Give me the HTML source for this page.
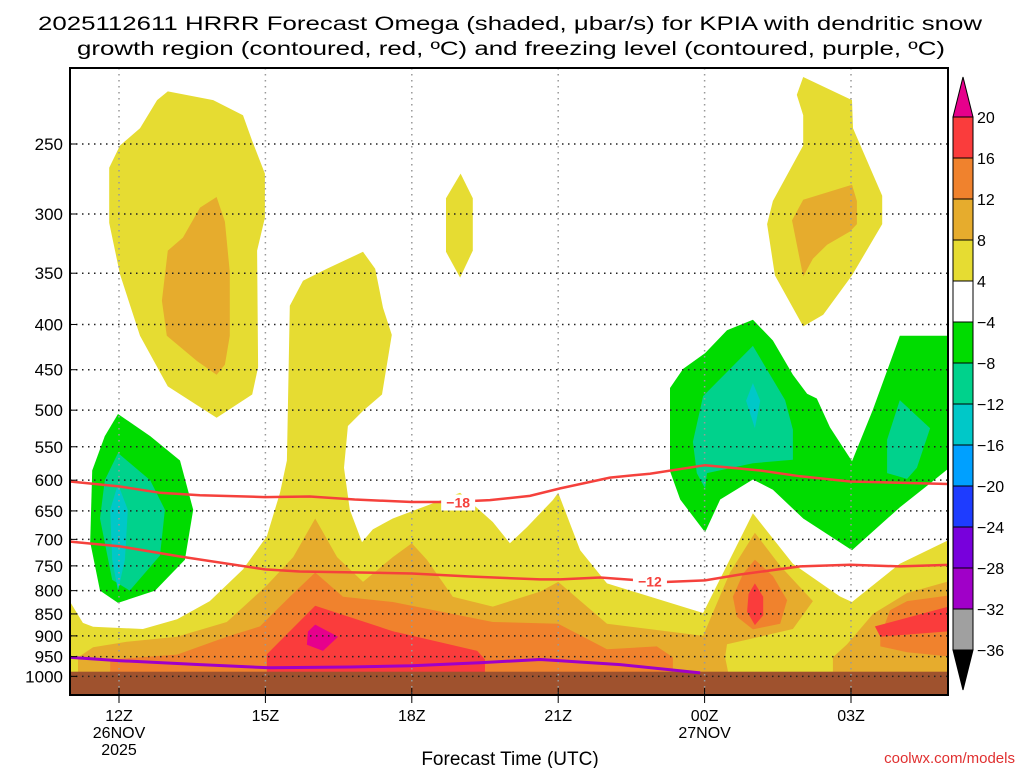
<!DOCTYPE html>
<html><head><meta charset="utf-8"><style>
html,body{margin:0;padding:0;background:#fff;width:1024px;height:768px;overflow:hidden}
svg text{font-family:"Liberation Sans",sans-serif}
</style></head><body>
<svg id="chart" width="1024" height="768" viewBox="0 0 1024 768" xmlns="http://www.w3.org/2000/svg">
<text x="38" y="30" font-size="19" textLength="944" lengthAdjust="spacingAndGlyphs">2025112611 HRRR Forecast Omega (shaded, μbar/s) for KPIA with dendritic snow</text>
<text x="77" y="55" font-size="19" textLength="868" lengthAdjust="spacingAndGlyphs">growth region (contoured, red, ºC) and freezing level (contoured, purple, ºC)</text>
<defs><clipPath id="plotclip"><rect x="70" y="68" width="878" height="627"/></clipPath></defs>
<g id="fills" clip-path="url(#plotclip)"></g>
<g id="overlay"></g>
<rect x="70" y="68" width="878" height="627" fill="none" stroke="#000" stroke-width="2"/>
<g id="cbar"></g>
<text x="510" y="765" font-size="19" text-anchor="middle">Forecast Time (UTC)</text>
<text x="1015" y="763" font-size="15" text-anchor="end" fill="#e03030">coolwx.com/models</text>
</svg>
<script>
// axes: hours since 00Z 26NOV (11 -> 29), pressure hPa log scale
const pTicks=[250,300,350,400,450,500,550,600,650,700,750,800,850,900,950,1000];
const hTicks=[12,15,18,21,24,27];
const hLabels=[["12Z","26NOV","2025"],["15Z"],["18Z"],["21Z"],["00Z","27NOV"],["03Z"]];
const cbLevels=[20,16,12,8,4,-4,-8,-12,-16,-20,-24,-28,-32,-36];
const cbColors=["#fa3c3c","#f0822d","#e6ac2d","#e6dc32","#ffffff","#00dc00","#00d28c","#00c8c8","#00a0ff","#1e3cff","#7800dc","#a000c8","#a0a0a0"];
// shaded regions: [hour, pressure]
const yellowMain=[[11,824],[11.26,870],[11.47,879],[12.49,884],[13.19,862],[13.86,822],[14.54,757],[15.03,694],[15.3,620],[15.44,570],[15.5,381],[15.77,357],[16.26,346],[17,331],[17.25,346],[17.41,383],[17.59,411],[17.39,480],[17,501],[16.69,521],[16.61,581],[16.73,648],[16.98,705],[17.2,682],[17.61,663],[18.31,641],[18.99,620],[19.66,669],[20.01,707],[20.36,678],[20.89,632],[21,620],[21.45,720],[22,785],[23.97,848],[24.99,654],[25.81,746],[26.77,812],[27.02,824],[28,746],[29.03,700],[29.03,1050],[11,1050]];
const yellowUL=[[13,218],[13.93,223],[14.54,232],[14.73,248],[14.99,270],[14.99,303],[14.83,330],[14.85,447],[14.73,480],[14,510],[13,470],[12.43,412],[12.02,351],[11.8,307],[11.8,266],[12.02,251],[12.43,240],[12.78,223]];
const goldUL=[[14,287],[14.17,306],[14.27,349],[14.27,412],[14.17,444],[14,456],[13.6,440],[12.98,412],[12.88,376],[13,330],[13.31,319],[13.66,295]];
const yellowSmall=[[19,270],[19.25,288],[19.25,330],[18.99,354],[18.7,331],[18.7,288]];
const yellowUR=[[26.02,210],[27.02,223],[27.04,240],[27.64,286],[27.64,308],[27.02,352],[26.43,390],[26.02,402],[25.44,352],[25.28,308],[25.4,290],[26.02,251],[26.02,232],[25.89,220]];
const goldUR=[[27.02,278],[27.12,290],[27.12,308],[26.98,314],[26.51,325],[26.22,337],[26.02,353],[25.79,305],[26.02,289]];
const goldLow=[[11.16,952],[11.47,927],[12.16,914],[13.19,902],[14.21,868],[15.03,789],[15.57,733],[16.02,663],[16.47,733],[17,782],[17.61,733],[18,707],[18.31,738],[18.84,813],[19.66,834],[20.63,802],[21,782],[22,872],[23.97,900],[24.52,763],[25.03,688],[25.55,750],[26.22,822],[25.81,884],[24.46,920],[24.42,952],[24.58,1050],[11.16,1050]];
const goldRight=[[26.63,952],[26.92,920],[27.45,850],[28.15,805],[29.03,780],[29.03,1050],[26.63,1050]];
const orangeLow=[[11.82,957],[13.19,945],[14.21,902],[14.89,878],[15.5,813],[16.02,763],[16.59,813],[17.61,824],[19.66,868],[21,872],[22,932],[23.02,925],[23.35,952],[23.35,1050],[11.82,1050]];
const orangePeak=[[25.03,738],[25.4,770],[25.69,820],[25.55,872],[24.99,885],[24.66,856],[24.58,813],[24.79,765]];
const orangeRight=[[27.6,902],[27.8,842],[28.15,822],[29.03,810],[29.03,950],[28.15,939],[27.6,925]];
const redLow=[[15.03,944],[16.02,832],[17.61,889],[19.34,936],[19.5,957],[19.5,1050],[15.03,1050]];
const redPeak=[[25.03,785],[25.2,813],[25.2,853],[25.03,875],[24.87,845],[24.9,807]];
const redRight=[[27.49,878],[29.03,833],[29.03,889],[27.6,902]];
const magentaLow=[[16.02,874],[16.49,902],[16.18,936],[15.85,921],[15.87,890]];
const greenL=[[11.98,505],[12.64,535],[13.25,570],[13.52,648],[13.35,738],[12.74,800],[11.98,826],[11.61,800],[11.41,705],[11.45,585],[11.71,535]];
const tealL=[[11.98,559],[12.64,600],[12.94,648],[12.84,730],[12.22,800],[11.86,778],[11.61,663],[11.71,600]];
const cyanL=[[11.98,606],[12.18,648],[12.12,738],[11.98,800],[11.86,738],[11.82,648]];
const greenR=[[23.29,472],[23.56,449],[24.01,431],[24.46,406],[24.99,395],[25.4,417],[25.81,456],[26.1,479],[26.3,485],[26.57,523],[27.02,571],[27.45,499],[28,412],[29.03,412],[29.03,580],[28.62,605],[28,644],[27.02,720],[26.02,663],[25.4,615],[24.99,599],[24.32,631],[24.01,687],[23.5,631],[23.29,586]];
const tealR1=[[23.76,543],[23.97,482],[24.99,423],[25.65,487],[25.81,526],[25.81,569],[24.99,574],[24.05,589],[24.01,613],[23.84,589]];
const cyanR=[[24.99,466],[25.14,488],[25.03,524],[24.85,488]];
const tealR2=[[28,487],[28.62,524],[28.35,581],[28.15,598],[27.74,589],[27.74,540]];
// contour lines
const lineHours18=[11,12.02,12.84,13.66,14.99,15.91,16.83,18,18.78,19.6,20.42,21.04,22.06,22.88,24.01,25.14,25.96,26.98,28,29];
const linePres18=[602,610,620,624,627,626,631,635,635,632,625,613,596,590,577,585,594,602,604,606];
const lineHours12=[11,12.02,13.25,14.99,15.7,16.93,18,19.19,20.63,21.04,21.86,22.68,23.0,24.01,24.73,25.96,26.98,28,29];
const linePres12=[704,713,732,757,761,763,765,771,777,777,773,779,783,779,767,751,748,751,748];
const frzHours=[11,12.02,13.66,15.09,16.73,18,19.39,20.63,21.04,22.27,23.91];
const frzPres=[952,960,970,978,976,973,965,957,960,970,991];
const terrainPres=988;

const X=h=>119+(h-12)*48.8;
const Y=p=>144+384*Math.log(p/250);
const NS="http://www.w3.org/2000/svg";
function mk(tag,parent){const e=document.createElementNS(NS,tag);parent.appendChild(e);return e;}
const fills=document.getElementById('fills');
const overlay=document.getElementById('overlay');
function poly(pts,color,name){
  const e=mk('polygon',fills);
  e.setAttribute('points',pts.map(q=>X(q[0]).toFixed(1)+','+Y(q[1]).toFixed(1)).join(' '));
  e.setAttribute('fill',color);
  
  
}
poly(yellowMain,'#e6dc32','shade-4-8-lower');
poly(yellowUL,'#e6dc32','shade-4-8-upper-left');
poly(goldUL,'#e6ac2d','shade-8-12-upper-left');
poly(yellowSmall,'#e6dc32','shade-4-8-small');
poly(yellowUR,'#e6dc32','shade-4-8-upper-right');
poly(goldUR,'#e6ac2d','shade-8-12-upper-right');
poly(goldLow,'#e6ac2d','shade-8-12-lower');
poly(goldRight,'#e6ac2d','shade-8-12-right');
poly(orangeLow,'#f0822d','shade-12-16-lower');
poly(orangePeak,'#f0822d','shade-12-16-peak');
poly(orangeRight,'#f0822d','shade-12-16-right');
poly(redLow,'#fa3c3c','shade-16-20-lower');
poly(redPeak,'#fa3c3c','shade-16-20-peak');
poly(redRight,'#fa3c3c','shade-16-20-right');
poly(magentaLow,'#e6008c','shade-above-20');
poly(greenL,'#00dc00','shade-neg4-neg8-left');
poly(tealL,'#00d28c','shade-neg8-neg12-left');
poly(cyanL,'#00c8c8','shade-neg12-neg16-left');
poly(greenR,'#00dc00','shade-neg4-neg8-right');
poly(tealR1,'#00d28c','shade-neg8-neg12-right');
poly(cyanR,'#00c8c8','shade-neg12-neg16-right');
poly(tealR2,'#00d28c','shade-neg8-neg12-far-right');
// terrain
const terr=mk('rect',fills);
terr.setAttribute('x',70);terr.setAttribute('y',Y(terrainPres));terr.setAttribute('width',878);terr.setAttribute('height',695-Y(terrainPres));terr.setAttribute('fill','#9f522e');


// grid
hTicks.forEach(h=>{
  const l=mk('line',fills);
  l.setAttribute('x1',X(h));l.setAttribute('x2',X(h));l.setAttribute('y1',68);l.setAttribute('y2',695);
  l.setAttribute('stroke','#999');l.setAttribute('stroke-dasharray','1.5 4.5');l.setAttribute('stroke-width','1.5');
  
  
});
pTicks.forEach(p=>{
  const l=mk('line',fills);
  l.setAttribute('x1',70);l.setAttribute('x2',948);l.setAttribute('y1',Y(p));l.setAttribute('y2',Y(p));
  l.setAttribute('stroke','#222');l.setAttribute('stroke-dasharray','1.5 4.5');l.setAttribute('stroke-width','1.5');
  
  
});
function pline(hs,ps,color,name,w){
  const e=mk('polyline',fills);
  e.setAttribute('points',hs.map((h,i)=>X(h).toFixed(1)+','+Y(ps[i]).toFixed(1)).join(' '));
  e.setAttribute('fill','none');e.setAttribute('stroke',color);e.setAttribute('stroke-width',w);
  
  
}
pline(lineHours18,linePres18,'#f5413c','contour-minus-18',2.5);
pline(lineHours12,linePres12,'#f5413c','contour-minus-12',2.5);
pline(frzHours,frzPres,'#a000c8','freezing-level-line',3);
function clabel(txt,h,p,name){
  const r=mk('rect',overlay);
  r.setAttribute('x',X(h)-17);r.setAttribute('y',Y(p)-8);r.setAttribute('width',34);r.setAttribute('height',16);r.setAttribute('fill','#fff');
  
  
  const t=mk('text',overlay);
  t.setAttribute('x',X(h));t.setAttribute('y',Y(p)+5);t.setAttribute('text-anchor','middle');
  t.setAttribute('font-size','14');t.setAttribute('font-weight','bold');t.setAttribute('fill','#f5413c');
  t.textContent=txt;
  
  
}
clabel('−18',18.95,636,'contour-label-minus-18');
clabel('−12',22.88,781,'contour-label-minus-12');
// axis ticks & labels
pTicks.forEach(p=>{
  const t=mk('text',overlay);
  t.setAttribute('x',63);t.setAttribute('y',Y(p)+6);t.setAttribute('text-anchor','end');t.setAttribute('font-size','17');
  t.textContent=p;
  
  
  const l=mk('line',overlay);
  l.setAttribute('x1',70);l.setAttribute('x2',77);l.setAttribute('y1',Y(p));l.setAttribute('y2',Y(p));l.setAttribute('stroke','#000');
  
  
});
hTicks.forEach((h,i)=>{
  const l=mk('line',overlay);
  l.setAttribute('x1',X(h));l.setAttribute('x2',X(h));l.setAttribute('y1',688);l.setAttribute('y2',703);l.setAttribute('stroke','#000');
  
  
  hLabels[i].forEach((s,j)=>{
    const t=mk('text',overlay);
    t.setAttribute('x',X(h));t.setAttribute('y',721+j*17);t.setAttribute('text-anchor','middle');t.setAttribute('font-size','16');
    t.textContent=s;
    
    
  });
});
// colorbar
const cb=document.getElementById('cbar');
const cbTop=117, cbStep=41, cbX=953, cbW=20;
const up=mk('polygon',cb);
up.setAttribute('points',`${cbX},${cbTop} ${cbX+cbW},${cbTop} ${cbX+cbW/2},${cbTop-40}`);
up.setAttribute('fill','#e6008c');up.setAttribute('stroke','#000');


cbColors.forEach((c,i)=>{
  const r=mk('rect',cb);
  r.setAttribute('x',cbX);r.setAttribute('y',cbTop+i*cbStep);r.setAttribute('width',cbW);r.setAttribute('height',cbStep);
  r.setAttribute('fill',c);r.setAttribute('stroke','#000');
  
  
});
const dn=mk('polygon',cb);
const cbBot=cbTop+cbColors.length*cbStep;
dn.setAttribute('points',`${cbX},${cbBot} ${cbX+cbW},${cbBot} ${cbX+cbW/2},${cbBot+40}`);
dn.setAttribute('fill','#000');dn.setAttribute('stroke','#000');


cbLevels.forEach((v,i)=>{
  const t=mk('text',cb);
  t.setAttribute('x',977);t.setAttribute('y',cbTop+i*cbStep+6);t.setAttribute('font-size','16');
  t.textContent=v<0?'−'+(-v):String(v);
  
  
});
</script>
</body></html>
